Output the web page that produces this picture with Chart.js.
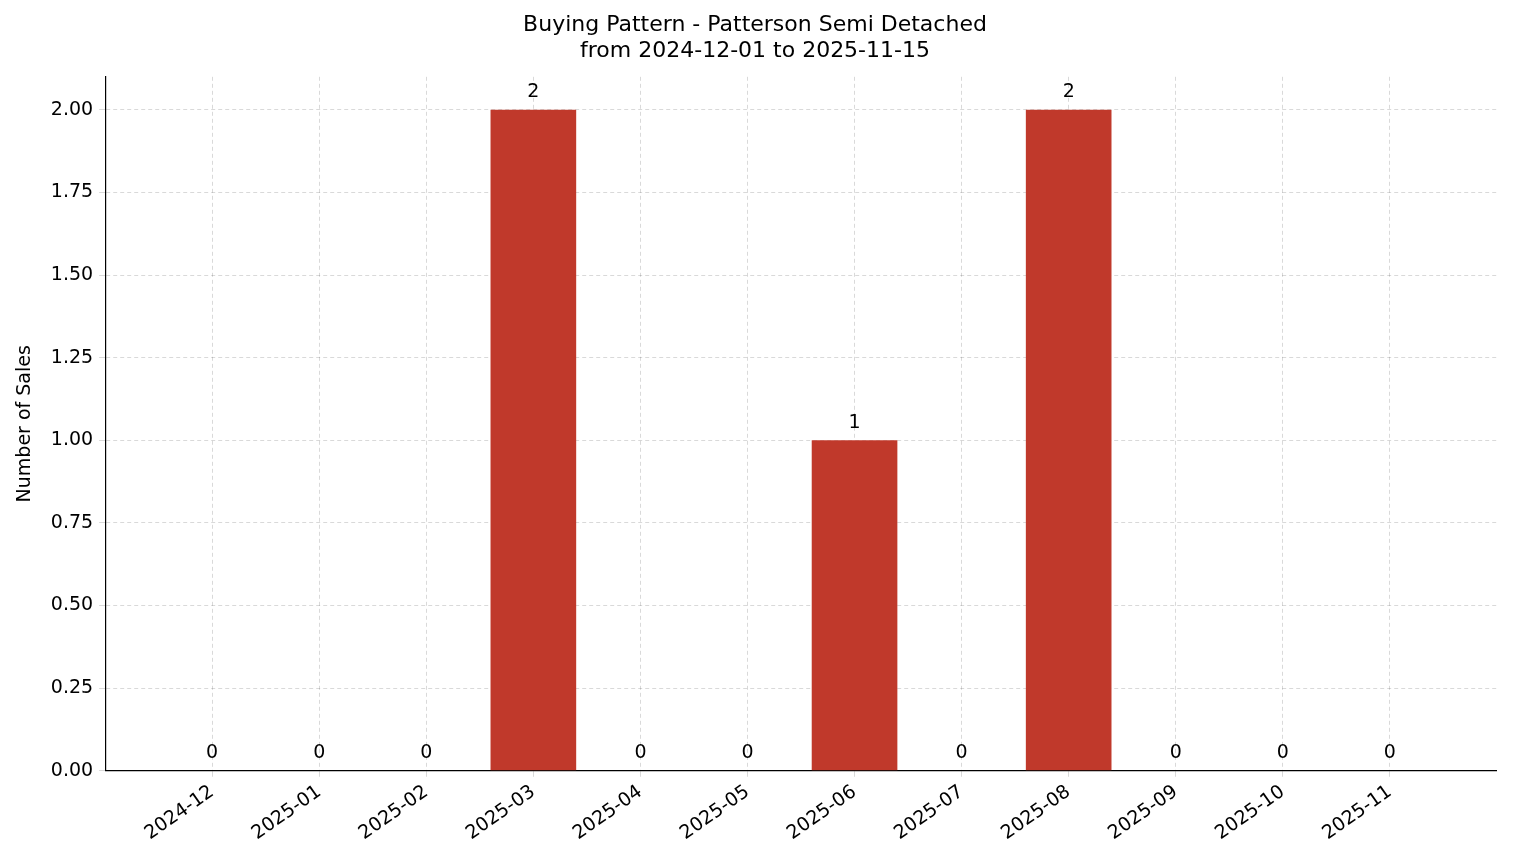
<!DOCTYPE html>
<html>
<head>
<meta charset="utf-8">
<script src="https://cdn.jsdelivr.net/npm/chart.js@4"></script>
<style>
  body { margin: 0; background: #fff; }
  #wrap { width: 1514px; height: 863px; }
</style>
</head>
<body>
<div id="wrap"><canvas id="chart"></canvas></div>
<script>
const months = ['2024-12', '2025-01', '2025-02', '2025-03', '2025-04', '2025-05',
                '2025-06', '2025-07', '2025-08', '2025-09', '2025-10', '2025-11'];
const sales = [0, 0, 0, 2, 0, 0, 1, 0, 2, 0, 0, 0];
const yTicks = [0, 0.25, 0.5, 0.75, 1, 1.25, 1.5, 1.75, 2];

// pad one empty slot each side, like matplotlib's axis margin
const labels = [''].concat(months, ['']);
const values = [null].concat(sales, [null]);

Chart.defaults.font.family = 'DejaVu Sans';
Chart.defaults.color = '#000';

const valueLabels = {
    id: 'valueLabels',
    afterDatasetsDraw(chart) {
        const ctx = chart.ctx;
        const meta = chart.getDatasetMeta(0);
        ctx.save();
        ctx.font = '19px DejaVu Sans';
        ctx.fillStyle = '#000';
        ctx.textAlign = 'center';
        ctx.textBaseline = 'bottom';
        meta.data.forEach((bar, i) => {
            if (values[i] === null) return;
            ctx.fillText(String(values[i]), bar.x, bar.y - 8);
        });
        ctx.restore();
    }
};

new Chart(document.getElementById('chart'), {
    type: 'bar',
    data: {
        labels: labels,
        datasets: [{
            data: values,
            backgroundColor: '#c0392b',
            borderWidth: 0,
            barPercentage: 0.8,
            categoryPercentage: 1.0
        }]
    },
    options: {
        responsive: true,
        maintainAspectRatio: false,
        animation: false,
        layout: { padding: { left: 10, right: 14, top: 8, bottom: 14 } },
        plugins: {
            legend: { display: false },
            tooltip: { enabled: false },
            title: {
                display: true,
                text: ['Buying Pattern - Patterson Semi Detached', 'from 2024-12-01 to 2025-11-15'],
                font: { size: 22, weight: 'normal', lineHeight: 1.2 },
                padding: { top: 4, bottom: 12 }
            }
        },
        scales: {
            x: {
                offset: false,
                grid: {
                    offset: false,
                    color: c => (labels[c.index] === '' ? 'rgba(0,0,0,0)' : 'rgba(0,0,0,0.15)'),
                    tickLength: 6
                },
                border: { color: '#000', width: 1.2, dash: [4, 3] },
                ticks: {
                    autoSkip: false,
                    maxRotation: 35,
                    minRotation: 35,
                    font: { size: 19 },
                    padding: 4
                }
            },
            y: {
                min: 0,
                max: 2.1,
                afterBuildTicks: axis => { axis.ticks = yTicks.map(v => ({ value: v })); },
                grid: { color: 'rgba(0,0,0,0.15)', tickLength: 6 },
                border: { color: '#000', width: 1.2, dash: [4, 3] },
                ticks: {
                    font: { size: 19 },
                    padding: 6,
                    callback: v => Number(v).toFixed(2)
                },
                title: { display: true, text: 'Number of Sales', font: { size: 19 }, padding: { bottom: 8 } }
            }
        }
    },
    plugins: [valueLabels]
});
</script>
</body>
</html>
